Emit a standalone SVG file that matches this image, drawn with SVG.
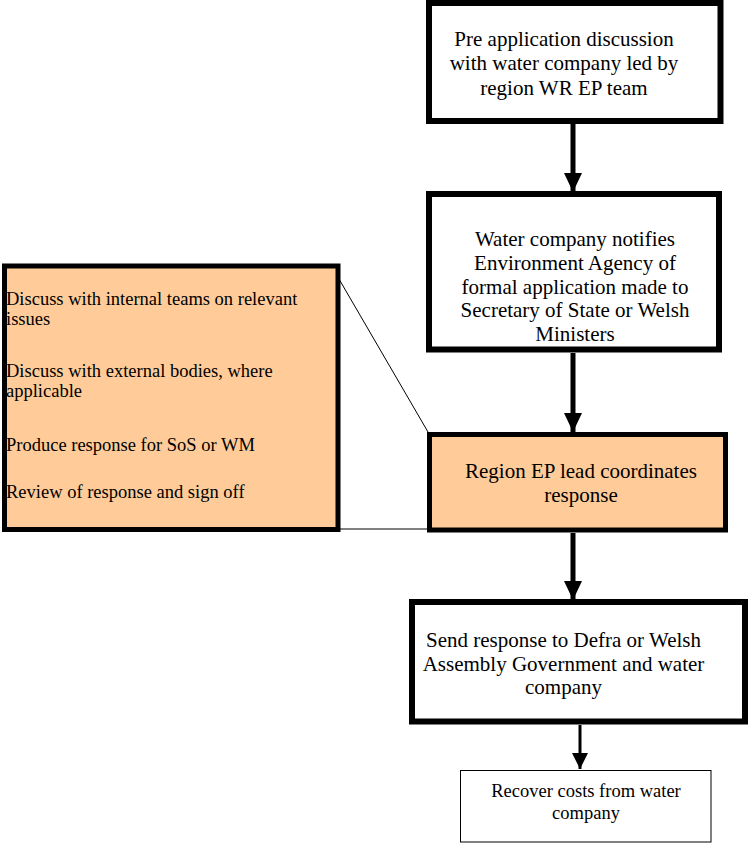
<svg xmlns="http://www.w3.org/2000/svg" width="748" height="843" viewBox="0 0 748 843">
<style>
.box{fill:#fff;stroke:#000;stroke-width:6}
.orange{fill:#FFCC99;stroke:#000;stroke-width:5}
.thin{fill:#fff;stroke:#000;stroke-width:1}
.t{font-family:"Liberation Serif","Times New Roman",serif;font-size:21px;fill:#000;text-anchor:middle}
.s{font-family:"Liberation Serif","Times New Roman",serif;font-size:18.5px;fill:#000}
.c{stroke:#000;fill:none}
</style>
<defs>
<marker id="ah" markerUnits="userSpaceOnUse" markerWidth="19" markerHeight="18" refX="19" refY="9" orient="auto" viewBox="0 0 19 18">
<path d="M0,0 L19,9 L0,18 Z" fill="#000"/>
</marker>
<marker id="ahs" markerUnits="userSpaceOnUse" markerWidth="16" markerHeight="16" refX="16" refY="8" orient="auto" viewBox="0 0 16 16">
<path d="M0,0 L16,8 L0,16 Z" fill="#000"/>
</marker>
</defs>
<rect width="748" height="843" fill="#fff"/>
<g id="connectors">
<line class="c" x1="573" y1="124" x2="573" y2="192" stroke-width="5" marker-end="url(#ah)"/>
<line class="c" x1="573" y1="353" x2="573" y2="432" stroke-width="5" marker-end="url(#ah)"/>
<line class="c" x1="573" y1="533" x2="573" y2="600" stroke-width="5" marker-end="url(#ah)"/>
<line class="c" x1="580" y1="725" x2="580" y2="769" stroke-width="3" marker-end="url(#ahs)"/>
<line class="c" x1="332" y1="267" x2="428" y2="432" stroke-width="1"/>
<line class="c" x1="340" y1="529" x2="428" y2="529" stroke-width="1"/>
</g>
<g id="n1">
<rect class="box" x="429" y="3" width="291.5" height="118"/>
<text class="t" x="564" y="45.5">Pre application discussion</text>
<text class="t" x="564" y="70">with water company led by</text>
<text class="t" x="564" y="94.5">region WR EP team</text>
</g>
<g id="n2">
<rect class="box" x="429" y="194" width="290" height="155.5"/>
<text class="t" x="575" y="246">Water company notifies</text>
<text class="t" x="575" y="270">Environment Agency of</text>
<text class="t" x="575" y="293.5">formal application made to</text>
<text class="t" x="575" y="317">Secretary of State or Welsh</text>
<text class="t" x="575" y="340.5">Ministers</text>
</g>
<g id="n3">
<rect class="orange" x="429.5" y="434.5" width="296" height="95.5"/>
<text class="t" x="581" y="478">Region EP lead coordinates</text>
<text class="t" x="581" y="502">response</text>
</g>
<g id="n4">
<rect class="box" x="412" y="602" width="333" height="119.5"/>
<text class="t" x="563.5" y="647">Send response to Defra or Welsh</text>
<text class="t" x="563.5" y="671">Assembly Government and water</text>
<text class="t" x="563.5" y="694">company</text>
</g>
<g id="n5">
<rect class="thin" x="460.5" y="770.5" width="250.5" height="71.5"/>
<text class="s" x="586" y="797" text-anchor="middle">Recover costs from water</text>
<text class="s" x="586" y="819" text-anchor="middle">company</text>
</g>
<g id="n6">
<rect class="orange" x="4.5" y="266" width="333.5" height="263.5" stroke-width="4"/>
<text class="s" x="6" y="305">Discuss with internal teams on relevant</text>
<text class="s" x="6" y="325">issues</text>
<text class="s" x="6" y="377">Discuss with external bodies, where</text>
<text class="s" x="6" y="397">applicable</text>
<text class="s" x="6" y="451">Produce response for SoS or WM</text>
<text class="s" x="6" y="498">Review of response and sign off</text>
</g>
</svg>
